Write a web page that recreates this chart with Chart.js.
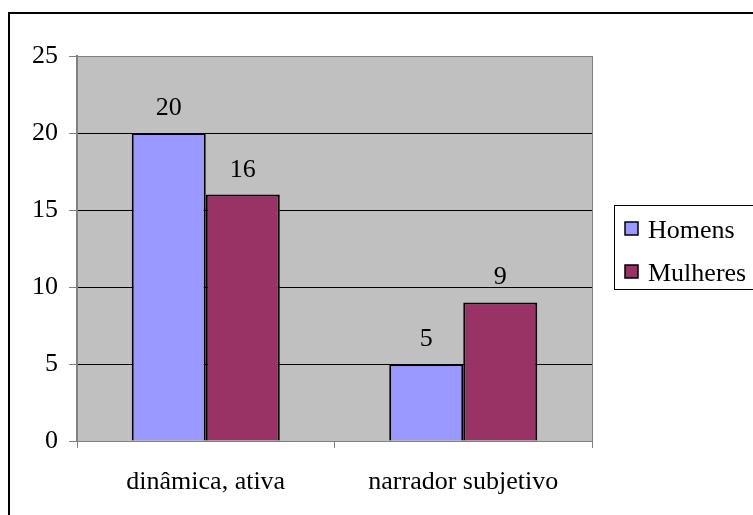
<!DOCTYPE html>
<html>
<head>
<meta charset="utf-8">
<script src="https://cdn.jsdelivr.net/npm/chart.js@4/dist/chart.umd.min.js"></script>
<style>
  html, body { margin: 0; padding: 0; background: #fff; }
  #wrap { width: 753px; height: 515px; position: relative; }
</style>
</head>
<body>
<div id="wrap"><canvas id="chart" width="753" height="515"></canvas></div>
<script>
// Chart data
const categories = ['dinâmica, ativa', 'narrador subjetivo'];
const homens = [20, 5];
const mulheres = [16, 9];
const yTicks = [0, 5, 10, 15, 20, 25];

const FONT = 'Liberation Serif, Times New Roman, serif';
const FSIZE = 26;

// Gray plot background and outer frame
const backgroundPlugin = {
    id: 'background',
    beforeDraw(c) {
        const ctx = c.ctx, a = c.chartArea;
        ctx.save();
        ctx.fillStyle = '#c0c0c0';
        ctx.fillRect(a.left, a.top, a.right - a.left, a.bottom - a.top);
        ctx.strokeStyle = '#000';
        ctx.lineWidth = 2;
        ctx.strokeRect(9, 13, 760, 520);
        ctx.restore();
    },
    afterDraw(c) {
        // plot area right edge
        const ctx = c.ctx, a = c.chartArea;
        ctx.save();
        ctx.strokeStyle = '#808080';
        ctx.lineWidth = 1;
        ctx.beginPath();
        ctx.moveTo(a.right + 0.5, a.top);
        ctx.lineTo(a.right + 0.5, a.bottom);
        ctx.stroke();
        ctx.restore();
    }
};

// Value labels above the bars
const labelPlugin = {
    id: 'valueLabels',
    afterDatasetsDraw(c) {
        const ctx = c.ctx;
        ctx.save();
        ctx.font = FSIZE + 'px ' + FONT;
        ctx.fillStyle = '#000';
        ctx.textAlign = 'center';
        ctx.textBaseline = 'alphabetic';
        c.data.datasets.forEach((ds, i) => {
            c.getDatasetMeta(i).data.forEach((bar, j) => {
                ctx.fillText(String(ds.data[j]), bar.x, bar.y - 18);
            });
        });
        ctx.restore();
    }
};

// Boxed legend on the right
const legendPlugin = {
    id: 'boxLegend',
    afterDraw(c) {
        const ctx = c.ctx;
        ctx.save();
        ctx.strokeStyle = '#000';
        ctx.lineWidth = 1;
        ctx.strokeRect(614.5, 205.5, 150, 84);
        ctx.font = FSIZE + 'px ' + FONT;
        ctx.textBaseline = 'alphabetic';
        c.data.datasets.forEach((ds, i) => {
            const y = 222 + i * 43;
            ctx.fillStyle = ds.backgroundColor;
            ctx.fillRect(625, y, 13, 13);
            ctx.strokeStyle = '#000';
            ctx.lineWidth = 1.5;
            ctx.strokeRect(625, y, 13, 13);
            ctx.fillStyle = '#000';
            ctx.fillText(ds.label, 648, y + 16);
        });
        ctx.restore();
    }
};

new Chart(document.getElementById('chart'), {
    type: 'bar',
    data: {
        labels: categories,
        datasets: [
            { label: 'Homens', data: homens, backgroundColor: '#9999ff', borderColor: '#000', borderWidth: 2 },
            { label: 'Mulheres', data: mulheres, backgroundColor: '#993366', borderColor: '#000', borderWidth: 2 }
        ]
    },
    options: {
        responsive: false,
        animation: false,
        layout: { padding: { left: 0, top: 56, right: 161, bottom: 0 } },
        datasets: { bar: { barPercentage: 1.0, categoryPercentage: 0.575 } },
        plugins: { legend: { display: false }, tooltip: { enabled: false } },
        scales: {
            x: {
                afterFit(s) { s.height = 74; },
                grid: { offset: true, drawOnChartArea: false, tickLength: 7, color: '#808080' },
                border: { color: '#808080', width: 1 },
                ticks: { color: '#000', font: { family: FONT, size: FSIZE }, padding: 19, maxRotation: 0 }
            },
            y: {
                min: 0,
                max: 25,
                afterFit(s) { s.width = 77; },
                afterBuildTicks(s) { s.ticks = yTicks.map(v => ({ value: v })); },
                grid: {
                    color: ctx => (ctx.tick && (ctx.tick.value === 0 || ctx.tick.value === 25)) ? '#808080' : '#000',
                    tickColor: '#808080',
                    tickLength: 8
                },
                border: { color: '#808080', width: 2 },
                ticks: { color: '#000', font: { family: FONT, size: FSIZE }, padding: 11 }
            }
        }
    },
    plugins: [backgroundPlugin, labelPlugin, legendPlugin]
});
</script>
</body>
</html>
